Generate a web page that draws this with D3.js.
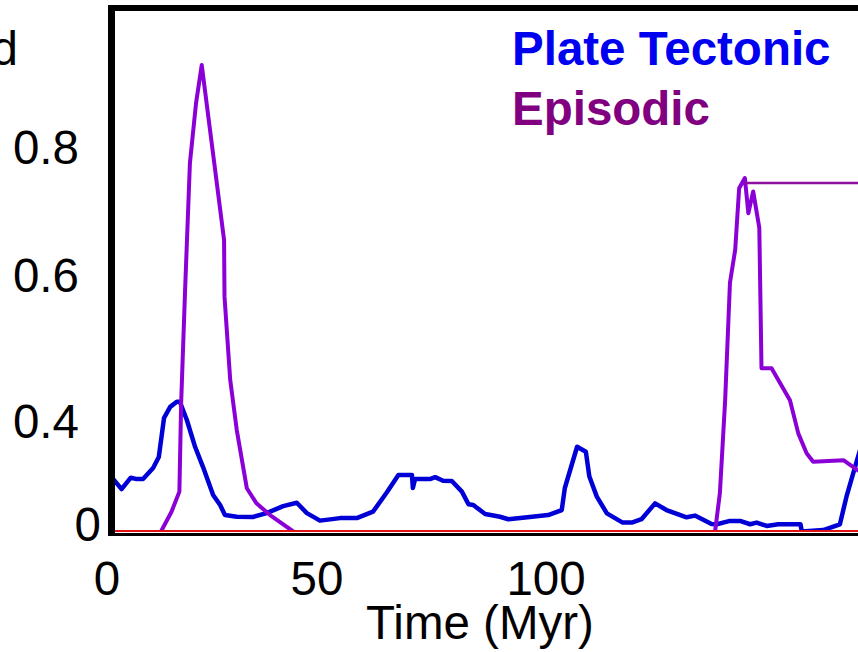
<!DOCTYPE html>
<html><head><meta charset="utf-8">
<script src="https://cdn.jsdelivr.net/npm/d3@7"></script>
<style>html,body{margin:0;padding:0;background:#fff;overflow:hidden}</style>
</head><body>
<svg id="chart" width="858" height="652"></svg>
<script>
// ---- data ----
const plateTime = [0, 3.1, 5.2, 6.6, 8.0, 10.3, 11.6, 12.8, 14.2, 15.7, 16.4, 18.0, 19.9, 21.7, 24.0, 25.6, 26.7, 29.4, 33.1, 36.2, 40.0, 43.1, 45.4, 48.4, 53.0, 56.8, 60.5, 63.6, 66.3, 69.4, 69.6, 70.1, 73.5, 74.7, 76.5, 78.5, 80.8, 82.3, 83.4, 86.1, 89.5, 91.4, 96.3, 100.5, 103.6, 104.3, 107.1, 109.1, 109.9, 111.6, 113.9, 117.5, 119.6, 121.8, 124.9, 127.5, 132.1, 134.0, 137.8, 139.0, 142.0, 144.3, 146.6, 148.1, 150.4, 153.0, 158.1, 158.4, 163.3, 167.1, 168.6, 170.9, 173.0];
const plateValue = [0.21, 0.152, 0.193, 0.188, 0.188, 0.228, 0.267, 0.403, 0.418, 0.425, 0.425, 0.400, 0.303, 0.231, 0.131, 0.095, 0.059, 0.053, 0.052, 0.066, 0.091, 0.103, 0.066, 0.039, 0.048, 0.048, 0.071, 0.139, 0.203, 0.203, 0.156, 0.188, 0.188, 0.195, 0.182, 0.181, 0.143, 0.098, 0.095, 0.063, 0.053, 0.044, 0.052, 0.059, 0.077, 0.156, 0.304, 0.286, 0.197, 0.125, 0.065, 0.032, 0.032, 0.044, 0.101, 0.077, 0.051, 0.057, 0.027, 0.026, 0.038, 0.038, 0.026, 0.032, 0.020, 0.026, 0.026, 0.0, 0.005, 0.026, 0.125, 0.250, 0.36];

const episodicTime = [12.1, 14.5, 16.3, 16.7, 17.6, 18.7, 20.1, 21.4, 26.5, 26.6, 27.9, 29.4, 31.7, 33.9, 37.0, 42.3, 90, 138.6, 139.7, 140.9, 142.0, 143.2, 144.1, 145.4, 146.2, 147.3, 148.7, 149.2, 151.5, 155.7, 157.6, 159.5, 161.0, 167.9, 170.5, 173.0];
const episodicValue = [0, 0.071, 0.143, 0.423, 0.578, 0.773, 0.863, 0.919, 0.653, 0.569, 0.455, 0.364, 0.155, 0.101, 0.059, 0, null, 0, 0.138, 0.427, 0.588, 0.638, 0.734, 0.75, 0.695, 0.729, 0.672, 0.471, 0.471, 0.427, 0.352, 0.281, 0.250, 0.256, 0.227, 0.2];

const capTime = [145.4, 176];
const capValue = [0.742, 0.742];

const stagnantTime = [0, 176];
const stagnantValue = [0, 0];

const seriesNames = ["Plate Tectonic", "Episodic"];
const xTickValues = [0, 50, 100];
const yTickValues = [0, 0.4, 0.6, 0.8];
const yAxisLabel = "d";
const xAxisLabel = "Time (Myr)";

// ---- scales ----
const svg = d3.select("#chart");
const x = d3.scaleLinear().domain([0, 100]).range([108, 546]);
const y = d3.scaleLinear().domain([0, 0.4, 0.6, 0.8, 1.0]).range([531.5, 420, 274, 146, 10]);

const font = "'Liberation Sans', Arial, Helvetica, sans-serif";
const fs = 47.5;

svg.append("defs").append("clipPath").attr("id", "plotclip")
  .append("rect").attr("x", 115).attr("y", 11).attr("width", 800).attr("height", 521);

const zip = (t, v) => t.map((d, i) => ({t: d, v: v[i]}));
const line = d3.line().defined(d => d.v != null).x(d => x(d.t)).y(d => y(d.v));

const plot = svg.append("g").attr("clip-path", "url(#plotclip)");

plot.append("path").datum(zip(plateTime, plateValue))
  .attr("d", line).attr("fill", "none").attr("stroke", "#0000d6")
  .attr("stroke-width", 4.5).attr("stroke-linejoin", "round");

plot.append("path").datum(zip(episodicTime, episodicValue))
  .attr("d", line).attr("fill", "none").attr("stroke", "#8a00d6")
  .attr("stroke-width", 4).attr("stroke-linejoin", "round");

plot.append("path").datum(zip(capTime, capValue))
  .attr("d", line).attr("fill", "none").attr("stroke", "#8e0ea0")
  .attr("stroke-width", 2.5);

// frame
svg.append("line").attr("x1", 108).attr("x2", 900).attr("y1", 534.5).attr("y2", 534.5)
  .attr("stroke", "#000").attr("stroke-width", 3);
svg.append("path").datum(zip(stagnantTime, stagnantValue))
  .attr("d", line).attr("fill", "none").attr("stroke", "#e01010").attr("stroke-width", 3)
  .attr("clip-path", "url(#plotclip)");
svg.append("line").attr("x1", 111.5).attr("x2", 111.5).attr("y1", 5).attr("y2", 536)
  .attr("stroke", "#000").attr("stroke-width", 7);
svg.append("line").attr("x1", 108).attr("x2", 900).attr("y1", 8).attr("y2", 8)
  .attr("stroke", "#000").attr("stroke-width", 6);

// y axis
const yAxis = svg.append("g").attr("transform", "translate(79,0)")
  .call(d3.axisLeft(y).tickValues(yTickValues).tickSize(0).tickPadding(0)
    .tickFormat(d => d === 0 ? "0" : d3.format(".1f")(d)));
yAxis.select(".domain").remove();
yAxis.selectAll("text")
  .attr("font-family", font).attr("font-size", fs).attr("fill", "#000")
  .attr("text-anchor", "end").attr("dy", "0.358em")
  .attr("x", d => d === 0 ? 22 : 0)
  .attr("y", d => d === 0 ? -8 : 0);

// x axis
const xAxis = svg.append("g")
  .call(d3.axisBottom(x).tickValues(xTickValues).tickSize(0).tickPadding(0));
xAxis.select(".domain").remove();
xAxis.selectAll(".tick").attr("transform", d => `translate(${x(d) + (d === 50 ? -10 : (d === 0 ? -1 : 0))},0)`);
xAxis.selectAll("text")
  .attr("font-family", font).attr("font-size", fs).attr("fill", "#000")
  .attr("text-anchor", "middle").attr("y", 595).attr("dy", 0);

svg.append("text").attr("x", 480).attr("y", 639).attr("text-anchor", "middle")
  .attr("font-family", font).attr("font-size", fs).attr("fill", "#000").text(xAxisLabel);

svg.append("text").attr("x", 18).attr("y", 65).attr("text-anchor", "end")
  .attr("font-family", font).attr("font-size", fs).attr("fill", "#000").text(yAxisLabel);

// legend
const legendColors = ["#0000f0", "#800080"];
svg.selectAll(".legend").data(seriesNames).join("text").attr("class", "legend")
  .attr("x", 512).attr("y", (d, i) => 65 + i * 60)
  .attr("font-family", font).attr("font-size", fs).attr("font-weight", "bold")
  .attr("fill", (d, i) => legendColors[i]).text(d => d);
</script>
</body></html>
